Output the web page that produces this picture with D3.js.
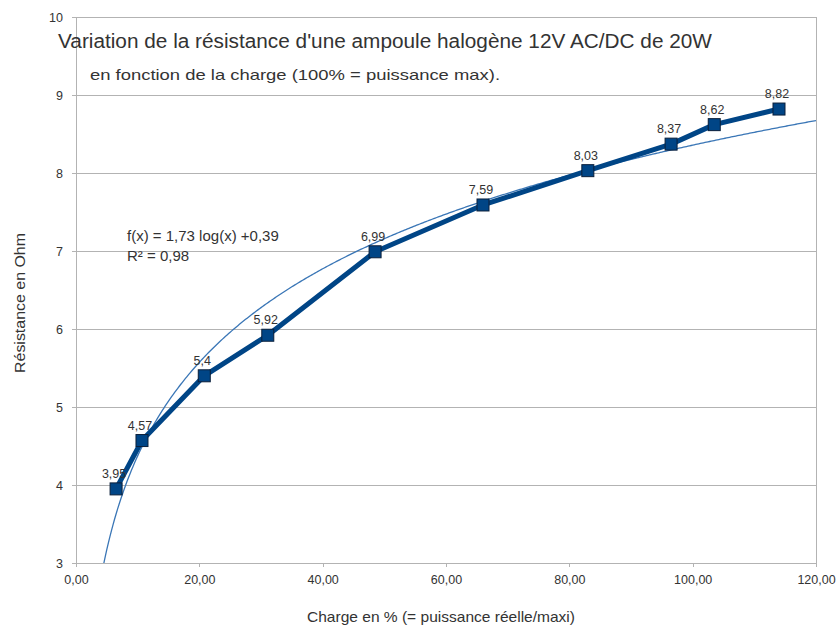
<!DOCTYPE html>
<html><head><meta charset="utf-8">
<script src="https://cdn.jsdelivr.net/npm/d3@7"></script>
<style>body{margin:0;background:#fff}svg{display:block;font-family:"Liberation Sans",Arial,sans-serif}</style>
</head><body><svg id="c" width="838" height="626"></svg>
<script>
const charge = [6.5, 10.7, 20.8, 31.1, 48.5, 66.0, 83.0, 96.5, 103.5, 114.0];
const resistance = [3.95, 4.57, 5.4, 5.92, 6.99, 7.59, 8.03, 8.37, 8.62, 8.82];
const labels = ["3,95","4,57","5,4","5,92","6,99","7,59","8,03","8,37","8,62","8,82"];
const xTicks = [0, 20, 40, 60, 80, 100, 120];
const yTicks = [3, 4, 5, 6, 7, 8, 9, 10];
const trendA = 1.73, trendB = 0.39;
const title = "Variation de la résistance d'une ampoule halogène 12V AC/DC de 20W";
const subtitle = "en fonction de la charge (100% = puissance max).";
const xTitle = "Charge en % (= puissance réelle/maxi)";
const yTitle = "Résistance en Ohm";

const svg = d3.select("#c");
const L = 76, R = 816, T = 17, B = 563;
const x = d3.scaleLinear().domain([0, 120]).range([L, R]);
const y = d3.scaleLinear().domain([3, 10]).range([B, T]);
const fmt = v => v.toFixed(2).replace(".", ",");

// gridlines
svg.append("g").selectAll("line").data(yTicks).join("line")
  .attr("x1", L).attr("x2", R).attr("y1", d => y(d)).attr("y2", d => y(d))
  .attr("stroke", "#b3b3b3").attr("stroke-width", 1).attr("shape-rendering", "crispEdges");
svg.append("line").attr("x1", R).attr("x2", R).attr("y1", T).attr("y2", B)
  .attr("stroke", "#b3b3b3").attr("shape-rendering", "crispEdges");

const xa = svg.append("g").attr("transform", `translate(0,${B})`)
  .call(d3.axisBottom(x).tickValues(xTicks).tickFormat(fmt).tickSize(4).tickPadding(8));
const ya = svg.append("g").attr("transform", `translate(${L},0)`)
  .call(d3.axisLeft(y).tickValues(yTicks).tickFormat(d3.format("d")).tickSize(4).tickPadding(9));
[xa, ya].forEach(a => {
  a.selectAll("path,line").attr("stroke", "#b3b3b3").attr("shape-rendering", "crispEdges");
  a.selectAll("text").attr("fill", "#333").attr("font-size", 12.5)
    .attr("font-family", "'Liberation Sans',Arial,sans-serif");
});

// trend line
svg.append("defs").append("clipPath").attr("id", "clip")
  .append("rect").attr("x", L).attr("y", T).attr("width", R - L).attr("height", B - T);
const xs = d3.range(4, 120.01, 0.25);
svg.append("path").datum(xs).attr("clip-path", "url(#clip)")
  .attr("d", d3.line().x(d => x(d)).y(d => y(trendA * Math.log(d) + trendB)))
  .attr("fill", "none").attr("stroke", "#3a76b6").attr("stroke-width", 1.3);

// data line
const pts = charge.map((c, i) => ({c, r: resistance[i], l: labels[i]}));
svg.append("path").datum(pts)
  .attr("d", d3.line().x(d => x(d.c)).y(d => y(d.r)))
  .attr("fill", "none").attr("stroke", "#004586").attr("stroke-width", 5).attr("stroke-linejoin", "round");
svg.append("g").selectAll("rect").data(pts).join("rect")
  .attr("x", d => x(d.c) - 6).attr("y", d => y(d.r) - 6).attr("width", 12).attr("height", 12)
  .attr("fill", "#004586").attr("stroke", "#0a1f3a").attr("stroke-width", 1);
svg.append("g").selectAll("text").data(pts).join("text")
  .attr("x", d => x(d.c) - 2).attr("y", d => y(d.r) - 11).attr("text-anchor", "middle")
  .attr("font-size", 12.5).attr("fill", "#333").text(d => d.l);

// texts
svg.append("text").attr("x", 58).attr("y", 48).attr("font-size", 19.5).attr("fill", "#333")
  .attr("textLength", 654).attr("lengthAdjust", "spacingAndGlyphs").text(title);
svg.append("text").attr("x", 90).attr("y", 80).attr("font-size", 15).attr("fill", "#333")
  .attr("textLength", 410).attr("lengthAdjust", "spacingAndGlyphs").text(subtitle);
svg.append("text").attr("x", 127).attr("y", 241).attr("font-size", 15).attr("fill", "#333")
  .text(`f(x) = ${String(trendA).replace(".", ",")} log(x) +${String(trendB).replace(".", ",")}`);
svg.append("text").attr("x", 127).attr("y", 261).attr("font-size", 15).attr("fill", "#333").text("R² = 0,98");
svg.append("text").attr("x", 307).attr("y", 622).attr("font-size", 14.5)
  .attr("textLength", 268).attr("lengthAdjust", "spacingAndGlyphs").attr("fill", "#333").text(xTitle);
svg.append("text").attr("transform", "translate(25,373) rotate(-90)")
  .attr("font-size", 14.5).attr("textLength", 140).attr("lengthAdjust", "spacingAndGlyphs")
  .attr("fill", "#333").text(yTitle);
</script></body></html>
